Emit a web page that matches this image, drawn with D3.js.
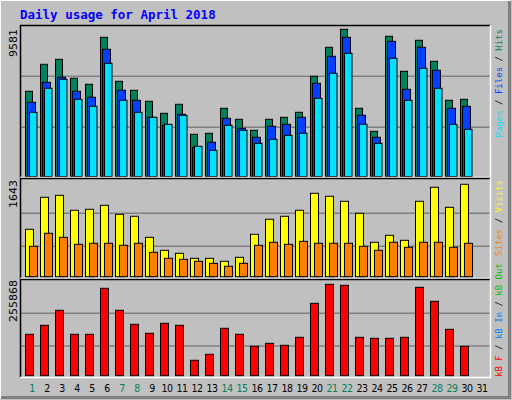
<!DOCTYPE html>
<html><head><meta charset="utf-8">
<script src="https://cdn.jsdelivr.net/npm/d3@7"></script>
<style>body{margin:0;background:#fff}</style></head>
<body><svg id="c" width="512" height="400"></svg>
<script>
const days = d3.range(1, 32);
const weekendDays = [1,7,8,14,15,21,22,28,29];
const hits  = [5547,7303,7629,6392,6002,9061,6197,5611,4895,4114,4700,2747,2812,4439,3723,3007,3723,3853,4179,6522,8410,9581,4439,2942,9126,6848,8865,7498,4960,5025];
const files = [4830,6131,6457,5546,5155,8279,5611,4960,3853,3333,4049,1901,2226,3788,3137,2552,3268,3398,3853,6066,7824,9061,3984,2552,8800,5676,8410,6913,4439,4569];
const pages = [4179,5741,6327,5025,4569,7368,4960,4179,3853,3398,3984,1966,1705,3333,3007,2161,2421,2682,2812,5090,6717,8019,3398,2161,7694,4960,7043,5741,3398,3072];
const visits= [843,1412,1447,1181,1198,1269,1109,1074,700,469,416,327,327,274,345,754,1021,1074,1181,1483,1430,1341,1127,612,736,647,1341,1590,1234,1643];
const sites = [540,772,700,576,594,594,558,594,434,327,309,274,238,185,238,558,612,576,629,594,594,594,540,469,612,523,612,612,523,594];
const kbytes= [115879,141070,183055,115879,115879,244633,183055,143869,118678,146668,141070,43105,59899,132673,115879,82291,90688,85090,107482,202648,255868,253030,107482,104683,104683,107482,247432,208246,129874,82291];
const maxHits = 9581, maxVisits = 1643, maxKB = 255868;

const svg = d3.select("#c");
const mono = "'DejaVu Sans Mono', monospace";
svg.append("rect").attr("width",512).attr("height",400).attr("fill","#c0c0c0");
svg.append("path").attr("d","M0.5,399 V0.5 H511").attr("stroke","#fff").attr("fill","none");
svg.append("path").attr("d","M1,397.5 H509.5 V1").attr("stroke","#808080").attr("stroke-width",3).attr("fill","none");

svg.append("text").attr("x",20).attr("y",19).attr("fill","#0000ff").attr("font-family",mono)
  .attr("font-weight","bold").attr("font-size",12.5).text("Daily usage for April 2018");

const x = d3.scaleLinear().domain([1,31]).range([25,475]);
const L = 20, R = 491;
const panels = [{y0:25,y1:178},{y0:178,y1:279},{y0:279,y1:378}];
panels.forEach(p=>{
  svg.append("rect").attr("x",L).attr("y",p.y0).attr("width",R-L).attr("height",p.y1-p.y0).attr("fill","#c0c0c0");
});
const yH = d3.scaleLinear().domain([0,maxHits]).range([176.5,29.3]);
const yV = d3.scaleLinear().domain([0,maxVisits]).range([276.7,184.3]);
const yK = d3.scaleLinear().domain([0,maxKB]).range([375.7,284.3]);
function grid(ys){ ys.forEach(g=>svg.append("line").attr("x1",L).attr("x2",R).attr("y1",g).attr("y2",g).attr("stroke","#808080").attr("stroke-width",1.5)); }
grid([76.3,127.3]); grid([213.3,246.3]); grid([313.3,346]);

function bars(data, y, off, w, color){
  svg.append("g").selectAll("rect").data(data).join("rect")
    .attr("x",(d,i)=>x(i+1)+off+0.5).attr("width",w)
    .attr("y",d=>y(d)).attr("height",d=>y(0)-y(d))
    .attr("fill",color).attr("stroke","#000").attr("stroke-width",1);
}
bars(hits,yH,0,7,"#00805c");
bars(files,yH,2,8,"#0040ff");
bars(pages,yH,4,7.5,"#00e0ff");
bars(visits,yV,0,8,"#ffff00");
bars(sites,yV,4,8,"#ff8000");
bars(kbytes,yK,0,8,"#ff0000");

panels.forEach(p=>{
  svg.append("path").attr("d",`M${L+0.5},${p.y1} V${p.y0+0.5} H${R}`).attr("stroke","#000").attr("stroke-width",1.5).attr("fill","none");
  svg.append("path").attr("d",`M${L},${p.y1-0.5} H${R-0.5} V${p.y0}`).attr("stroke","#fff").attr("stroke-width",1.5).attr("fill","none");
});

[[maxHits,29],[maxVisits,180],[maxKB,280]].forEach(([v,y])=>{
  svg.append("text").attr("transform",`translate(17,${y}) rotate(-90)`).attr("text-anchor","end")
    .attr("font-family","'DejaVu Sans', sans-serif").attr("font-size",11).attr("fill","#000").text(v);
});

svg.append("g").selectAll("text").data(days).join("text")
  .attr("x",d=>x(d)+7).attr("y",392).attr("text-anchor","middle")
  .attr("font-family","'DejaVu Sans Condensed', 'DejaVu Sans', sans-serif").attr("font-size",10.5)
  .attr("letter-spacing",-0.5)
  .attr("fill",d=>weekendDays.includes(d)?"#00805c":"#000").text(d=>d);

function legend(parts, y, anchor){
  const t = svg.append("text").attr("transform",`translate(502,${y}) rotate(-90)`).attr("text-anchor",anchor)
    .attr("font-family",mono).attr("font-size",9);
  parts.forEach(([s,c])=>t.append("tspan").attr("fill",c).text(s));
}
legend([["Pages","#00e0ff"],[" / ","#000"],["Files","#0040ff"],[" / ","#000"],["Hits","#00805c"]],29,"end");
legend([["Sites","#ff8000"],[" / ","#000"],["Visits","#ffff00"]],180,"end");
legend([["kB F","#ff0000"],[" / ","#000"],["kB In","#0080ff"],[" / ","#000"],["kB Out","#00c000"]],377,"start");
</script></body></html>
